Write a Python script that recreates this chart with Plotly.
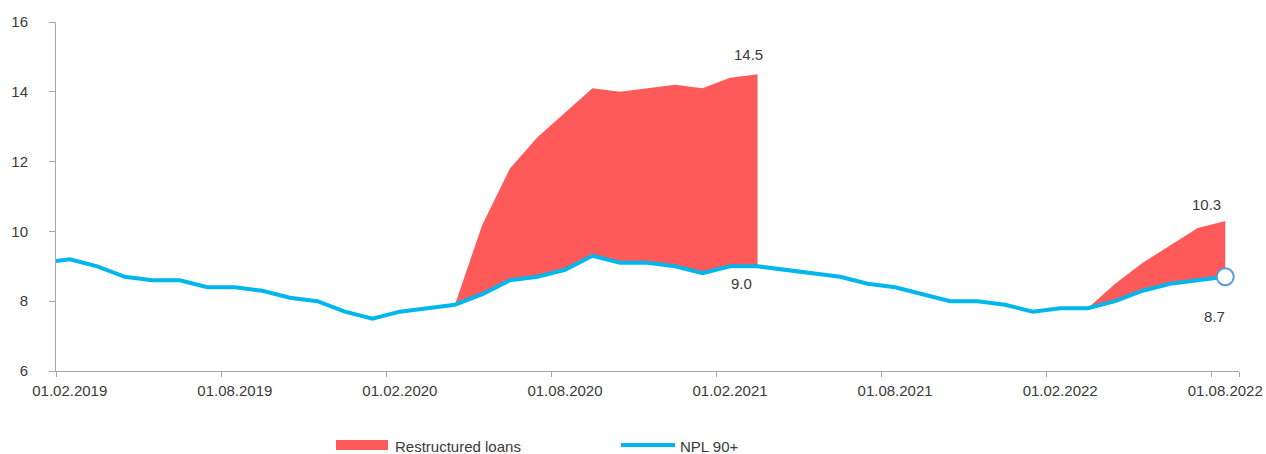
import plotly.graph_objects as go

# Monthly observations, Jan 2019 - Aug 2022 (first month sits just left of the visible range)
months = [
    "01.01.2019", "01.02.2019", "01.03.2019", "01.04.2019", "01.05.2019", "01.06.2019",
    "01.07.2019", "01.08.2019", "01.09.2019", "01.10.2019", "01.11.2019", "01.12.2019",
    "01.01.2020", "01.02.2020", "01.03.2020", "01.04.2020", "01.05.2020", "01.06.2020",
    "01.07.2020", "01.08.2020", "01.09.2020", "01.10.2020", "01.11.2020", "01.12.2020",
    "01.01.2021", "01.02.2021", "01.03.2021", "01.04.2021", "01.05.2021", "01.06.2021",
    "01.07.2021", "01.08.2021", "01.09.2021", "01.10.2021", "01.11.2021", "01.12.2021",
    "01.01.2022", "01.02.2022", "01.03.2022", "01.04.2022", "01.05.2022", "01.06.2022",
    "01.07.2022", "01.08.2022",
]

# NPL 90+ ratio, %
npl_90 = [
    9.1, 9.2, 9.0, 8.7, 8.6, 8.6,
    8.4, 8.4, 8.3, 8.1, 8.0, 7.7,
    7.5, 7.7, 7.8, 7.9, 8.2, 8.6,
    8.7, 8.9, 9.3, 9.1, 9.1, 9.0,
    8.8, 9.0, 9.0, 8.9, 8.8, 8.7,
    8.5, 8.4, 8.2, 8.0, 8.0, 7.9,
    7.7, 7.8, 7.8, 8.0, 8.3, 8.5,
    8.6, 8.7,
]

# NPL 90+ plus restructured loans, %, during the two restructuring waves
npl_plus_restructured = [
    None, None, None, None, None, None,
    None, None, None, None, None, None,
    None, None, None, 7.9, 10.2, 11.8,
    12.7, 13.4, 14.1, 14.0, 14.1, 14.2,
    14.1, 14.4, 14.5, None, None, None,
    None, None, None, None, None, None,
    None, None, 7.8, 8.5, 9.1, 9.6,
    10.1, 10.3,
]

tick_labels = ["01.02.2019", "01.08.2019", "01.02.2020", "01.08.2020",
               "01.02.2021", "01.08.2021", "01.02.2022", "01.08.2022"]

RED = "#FF5A5A"
BLUE = "#00B7EB"
AXIS = "#A6A6A6"
TEXT = "#3A3A3A"
FONT = "Liberation Sans, Arial, sans-serif"

fig = go.Figure()

# Split the restructured series into contiguous segments and fill each
# between the NPL line and the NPL+restructured line
segments, cur = [], []
for i, v in enumerate(npl_plus_restructured):
    if v is None:
        if cur:
            segments.append(cur)
            cur = []
    else:
        cur.append(i)
if cur:
    segments.append(cur)

for seg in segments:
    xs = [months[i] for i in seg] + [months[i] for i in reversed(seg)]
    ys = [npl_plus_restructured[i] for i in seg] + [npl_90[i] for i in reversed(seg)]
    fig.add_trace(go.Scatter(
        x=xs, y=ys, mode="lines", fill="toself", fillcolor=RED,
        line=dict(width=0, color=RED), showlegend=False, hoverinfo="skip",
    ))

fig.add_trace(go.Scatter(
    x=months, y=npl_90, mode="lines",
    line=dict(color=BLUE, width=4), showlegend=False,
))

# Highlight the latest NPL observation
fig.add_trace(go.Scatter(
    x=[months[-1]], y=[npl_90[-1]], mode="markers",
    marker=dict(size=17, color="white", line=dict(color="#5B9BD5", width=2)),
    showlegend=False, cliponaxis=False,
))

# Value labels at the end of each wave
peak_idx = segments[0][-1]
last_idx = segments[1][-1]
labels = [
    (months[peak_idx], npl_plus_restructured[peak_idx], -9, 20),
    (months[peak_idx], npl_90[peak_idx], -16, -17),
    (months[last_idx], npl_plus_restructured[last_idx], -19, 16),
    (months[last_idx], npl_90[last_idx], -11, -40),
]
for x, y, dx, dy in labels:
    fig.add_annotation(x=x, y=y, text=f"{y:.1f}", showarrow=False,
                       xshift=dx, yshift=dy,
                       font=dict(family=FONT, size=15, color=TEXT))

# Legend drawn below the axis
fig.add_shape(type="rect", xref="paper", yref="paper",
              x0=(336 - 56) / 1183, x1=(388 - 56) / 1183,
              y0=(371 - 450) / 349, y1=(371 - 440) / 349,
              fillcolor=RED, line=dict(width=0))
fig.add_annotation(xref="paper", yref="paper", x=(393 - 56) / 1183, y=(371 - 446) / 349,
                   text="Restructured loans", showarrow=False, xanchor="left", yanchor="middle",
                   font=dict(family=FONT, size=15, color=TEXT))
fig.add_shape(type="line", xref="paper", yref="paper",
              x0=(621 - 56) / 1183, x1=(675 - 56) / 1183,
              y0=(371 - 445) / 349, y1=(371 - 445) / 349,
              line=dict(color=BLUE, width=4))
fig.add_annotation(xref="paper", yref="paper", x=(678 - 56) / 1183, y=(371 - 446) / 349,
                   text="NPL 90+", showarrow=False, xanchor="left", yanchor="middle",
                   font=dict(family=FONT, size=15, color=TEXT))

fig.update_layout(
    width=1266, height=454,
    margin=dict(l=56, r=27, t=22, b=83),
    paper_bgcolor="white", plot_bgcolor="white",
    font=dict(family=FONT, size=15, color=TEXT),
    showlegend=False,
)
fig.update_xaxes(
    type="category", categoryorder="array", categoryarray=months,
    range=[0.5, len(months) - 0.5],
    tickmode="array", tickvals=tick_labels, ticktext=tick_labels, tickangle=0,
    tickson="boundaries", ticks="outside", ticklen=5, tickcolor=AXIS,
    showline=True, linecolor=AXIS, linewidth=1, showgrid=False, zeroline=False,
    ticklabelstandoff=6, automargin=False,
)
fig.update_yaxes(
    range=[6, 16], dtick=2, tick0=6,
    ticks="outside", ticklen=6, tickcolor=AXIS,
    showline=True, linecolor=AXIS, linewidth=1, showgrid=False, zeroline=False,
    ticklabelstandoff=18, automargin=False,
)

fig.write_html("out.html")
